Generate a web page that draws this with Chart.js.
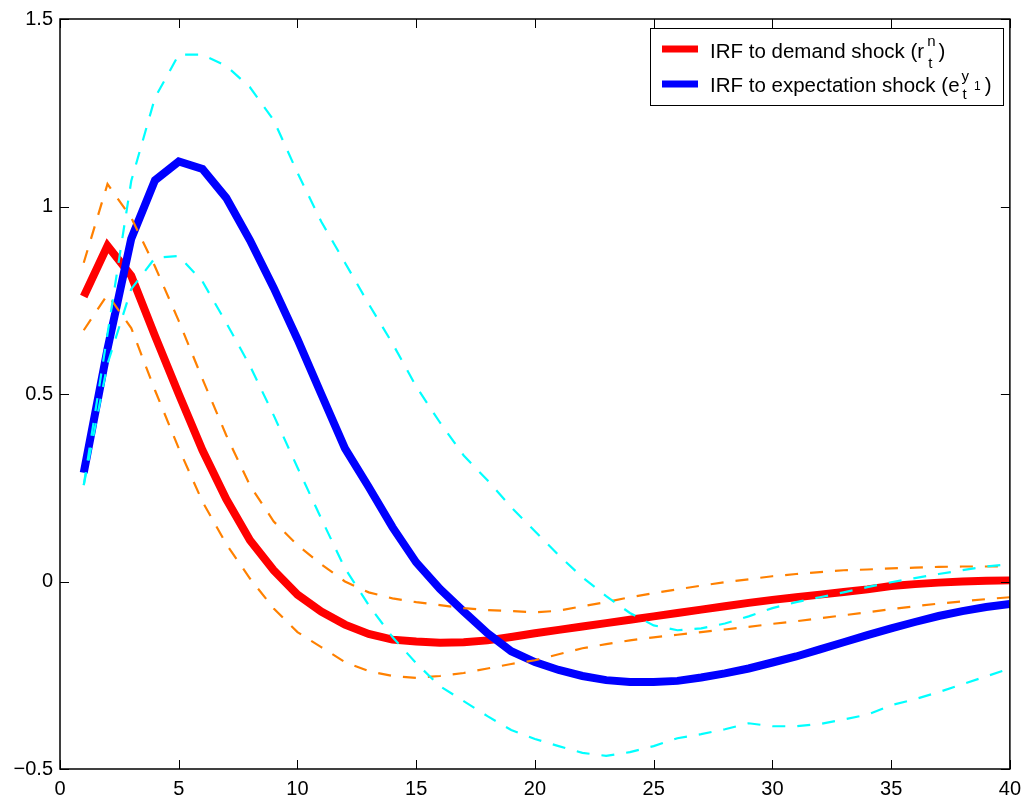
<!DOCTYPE html>
<html>
<head>
<meta charset="utf-8">
<script src="https://cdn.jsdelivr.net/npm/chart.js@4.4.0/dist/chart.umd.min.js"></script>
<style>
  html, body { margin: 0; padding: 0; background: #fff; }
  #wrap { width: 1029px; height: 802px; position: relative; }
</style>
</head>
<body>
<div id="wrap"><canvas id="irfChart"></canvas></div>
<script>
// horizon (quarters)
const steps = [1, 2, 3, 4, 5, 6, 7, 8, 9, 10, 11, 12, 13, 14, 15, 16, 17, 18, 19, 20,
               21, 22, 23, 24, 25, 26, 27, 28, 29, 30, 31, 32, 33, 34, 35, 36, 37, 38, 39, 40];

// IRF to demand shock + its band
const demandIrf = [0.76, 0.895, 0.815, 0.655, 0.50, 0.35, 0.22, 0.11, 0.03, -0.035,
                   -0.08, -0.115, -0.14, -0.155, -0.16, -0.163, -0.162, -0.157, -0.148, -0.138,
                   -0.129, -0.12, -0.111, -0.102, -0.093, -0.084, -0.075, -0.066, -0.057, -0.049,
                   -0.042, -0.035, -0.028, -0.021, -0.012, -0.007, -0.003, 0.0, 0.002, 0.003];
const demandUpper = [0.85, 1.06, 0.97, 0.84, 0.695, 0.54, 0.39, 0.256, 0.16, 0.097,
                     0.046, 0.0, -0.029, -0.045, -0.055, -0.063, -0.071, -0.076, -0.079, -0.082,
                     -0.078, -0.066, -0.055, -0.042, -0.031, -0.021, -0.011, -0.002, 0.006, 0.014,
                     0.02, 0.025, 0.03, 0.032, 0.035, 0.037, 0.039, 0.04, 0.04, 0.04];
const demandLower = [0.67, 0.765, 0.676, 0.51, 0.355, 0.213, 0.1, 0.008, -0.072, -0.135,
                     -0.175, -0.215, -0.239, -0.252, -0.257, -0.252, -0.244, -0.232, -0.22, -0.21,
                     -0.194, -0.178, -0.167, -0.157, -0.149, -0.142, -0.135, -0.128, -0.121, -0.113,
                     -0.106, -0.098, -0.09, -0.082, -0.074, -0.066, -0.059, -0.053, -0.047, -0.042];

// IRF to expectation shock + its band
const expectIrf = [0.29, 0.62, 0.914, 1.07, 1.12, 1.10, 1.023, 0.91, 0.783, 0.646,
                   0.50, 0.355, 0.252, 0.145, 0.051, -0.02, -0.08, -0.138, -0.186, -0.215,
                   -0.236, -0.252, -0.263, -0.268, -0.268, -0.265, -0.256, -0.245, -0.232, -0.216,
                   -0.2, -0.181, -0.162, -0.143, -0.125, -0.108, -0.092, -0.079, -0.068, -0.06];
const expectUpper = [0.257, 0.66, 1.068, 1.29, 1.405, 1.405, 1.375, 1.318, 1.23, 1.09,
                     0.96, 0.85, 0.74, 0.635, 0.52, 0.424, 0.336, 0.27, 0.198, 0.134,
                     0.07, 0.011, -0.039, -0.084, -0.117, -0.13, -0.125, -0.112, -0.093, -0.071,
                     -0.055, -0.042, -0.029, -0.015, -0.002, 0.009, 0.02, 0.03, 0.04, 0.046];
const expectLower = [0.257, 0.58, 0.78, 0.863, 0.868, 0.80, 0.69, 0.575, 0.443, 0.304,
                     0.168, 0.035, -0.063, -0.148, -0.218, -0.279, -0.319, -0.359, -0.396, -0.42,
                     -0.439, -0.457, -0.465, -0.455, -0.439, -0.418, -0.407, -0.394, -0.378, -0.386,
                     -0.386, -0.38, -0.368, -0.355, -0.33, -0.314, -0.295, -0.274, -0.253, -0.232];

const xTicks = [0, 5, 10, 15, 20, 25, 30, 35, 40];
const yTicks = [-0.5, 0, 0.5, 1, 1.5];

const FONT = '"Liberation Sans", Arial, Helvetica, sans-serif';

function pairs(ys) {
    return steps.map((s, i) => ({ x: s, y: ys[i] }));
}

function tickText(v) {
    return v < 0 ? '\u2212' + Math.abs(v) : String(v);
}

// box around the axes with inward ticks on all four sides (matlab look)
const boxTicks = {
    id: 'boxTicks',
    afterDatasetsDraw(chart) {
        const { ctx, chartArea: a, scales } = chart;
        const len = 9;
        ctx.save();
        ctx.strokeStyle = '#000';
        ctx.lineWidth = 1;
        ctx.beginPath();
        xTicks.forEach(v => {
            const px = Math.round(scales.x.getPixelForValue(v)) + 0.5;
            ctx.moveTo(px, a.bottom); ctx.lineTo(px, a.bottom - len);
            ctx.moveTo(px, a.top); ctx.lineTo(px, a.top + len);
        });
        yTicks.forEach(v => {
            const py = Math.round(scales.y.getPixelForValue(v)) + 0.5;
            ctx.moveTo(a.left, py); ctx.lineTo(a.left + len, py);
            ctx.moveTo(a.right, py); ctx.lineTo(a.right - len, py);
        });
        ctx.stroke();
        ctx.lineWidth = 1.5;
        ctx.strokeRect(a.left, a.top, a.right - a.left, a.bottom - a.top);
        ctx.restore();
    }
};

// legend with the little super/subscripts
const irfLegend = {
    id: 'irfLegend',
    afterDraw(chart) {
        const ctx = chart.ctx;
        const bx = 650, by = 28, bw = 353, bh = 77;
        ctx.save();
        ctx.fillStyle = '#fff';
        ctx.fillRect(bx, by, bw, bh);
        ctx.strokeStyle = '#000';
        ctx.lineWidth = 1;
        ctx.strokeRect(bx + 0.5, by + 0.5, bw, bh);

        ctx.lineWidth = 7;
        ctx.lineCap = 'butt';
        ctx.strokeStyle = '#ff0000';
        ctx.beginPath(); ctx.moveTo(662, 49); ctx.lineTo(698, 49); ctx.stroke();
        ctx.strokeStyle = '#0000ff';
        ctx.beginPath(); ctx.moveTo(662, 84); ctx.lineTo(698, 84); ctx.stroke();

        ctx.fillStyle = '#000';
        ctx.textBaseline = 'alphabetic';
        ctx.textAlign = 'left';

        // line 1
        ctx.font = '20.5px ' + FONT;
        let t1 = 'IRF to demand shock (r';
        ctx.fillText(t1, 710, 58);
        let x = 710 + ctx.measureText(t1).width + 3;
        ctx.font = '15px ' + FONT;
        ctx.fillText('n', x, 46);
        ctx.fillText('t', x + 1, 68);
        x += ctx.measureText('n').width + 3;
        ctx.font = '20.5px ' + FONT;
        ctx.fillText(')', x, 58);

        // line 2
        let t2 = 'IRF to expectation shock (e';
        ctx.fillText(t2, 710, 92);
        x = 710 + ctx.measureText(t2).width + 2;
        ctx.font = '15px ' + FONT;
        ctx.fillText('y', x, 81);
        ctx.fillText('t', x + 1, 99);
        x += ctx.measureText('y').width + 5;
        ctx.font = '12px ' + FONT;
        ctx.fillText('1', x, 90);
        x += ctx.measureText('1').width + 4;
        ctx.font = '20.5px ' + FONT;
        ctx.fillText(')', x, 92);
        ctx.restore();
    }
};

const dashed = [13, 12];

new Chart(document.getElementById('irfChart'), {
    type: 'line',
    data: {
        datasets: [
            { label: 'expect upper', data: pairs(expectUpper), borderColor: '#00ffff', borderWidth: 2.2, borderDash: dashed, order: 0 },
            { label: 'expect lower', data: pairs(expectLower), borderColor: '#00ffff', borderWidth: 2.2, borderDash: dashed, order: 0 },
            { label: 'demand upper', data: pairs(demandUpper), borderColor: '#ff8000', borderWidth: 2.2, borderDash: dashed, order: 1 },
            { label: 'demand lower', data: pairs(demandLower), borderColor: '#ff8000', borderWidth: 2.2, borderDash: dashed, order: 1 },
            { label: 'IRF to expectation shock', data: pairs(expectIrf), borderColor: '#0000ff', borderWidth: 8, order: 2 },
            { label: 'IRF to demand shock', data: pairs(demandIrf), borderColor: '#ff0000', borderWidth: 8, order: 3 }
        ]
    },
    options: {
        responsive: true,
        maintainAspectRatio: false,
        animation: false,
        events: [],
        layout: { padding: { top: 18, right: 17, left: 0, bottom: 0 } },
        elements: {
            point: { radius: 0 },
            line: { tension: 0, fill: false, borderJoinStyle: 'miter' }
        },
        plugins: {
            legend: { display: false },
            tooltip: { enabled: false }
        },
        scales: {
            x: {
                type: 'linear',
                min: 0,
                max: 40,
                afterFit: s => { s.height = 33; },
                afterBuildTicks: s => { s.ticks = xTicks.map(v => ({ value: v })); },
                grid: { display: false, drawTicks: false },
                border: { display: false },
                ticks: {
                    color: '#000',
                    padding: 8,
                    maxRotation: 0,
                    autoSkip: false,
                    font: { family: FONT, size: 20 },
                    callback: v => tickText(v)
                }
            },
            y: {
                min: -0.5,
                max: 1.5,
                afterFit: s => { s.width = 60; },
                afterBuildTicks: s => { s.ticks = yTicks.map(v => ({ value: v })); },
                grid: { display: false, drawTicks: false },
                border: { display: false },
                ticks: {
                    color: '#000',
                    padding: 7,
                    font: { family: FONT, size: 20 },
                    callback: v => tickText(v)
                }
            }
        }
    },
    plugins: [boxTicks, irfLegend]
});
</script>
</body>
</html>
